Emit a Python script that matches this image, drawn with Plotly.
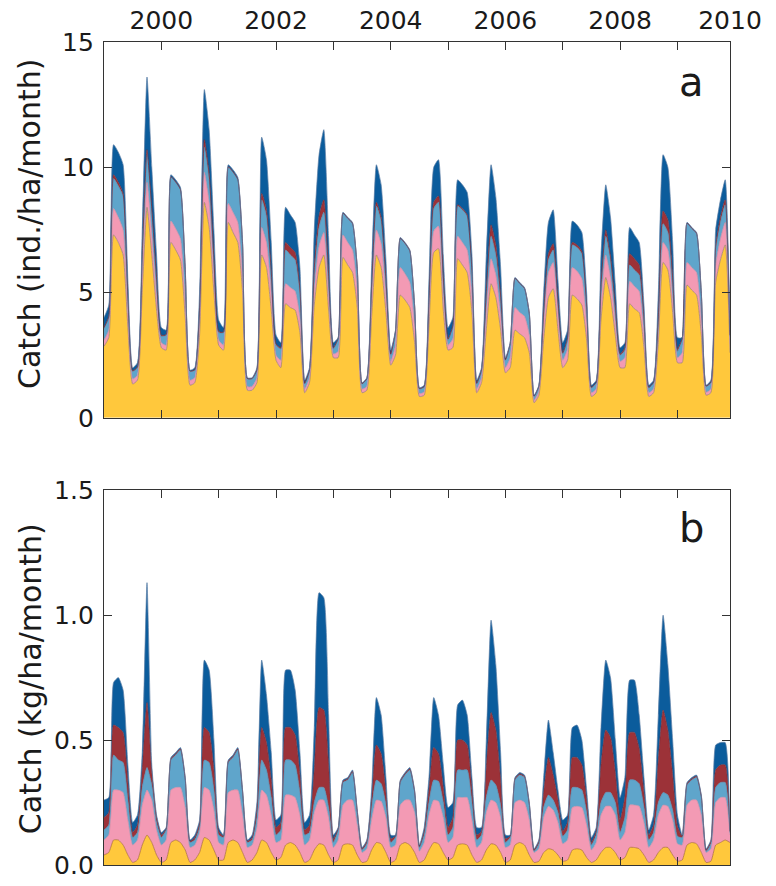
import plotly.graph_objects as go

# ---------------------------------------------------------------
# Monthly catch, January 1999 - December 2009 (132 months)
# Stack order (bottom -> top): yellow, pink, light blue, dark red, dark blue
# ---------------------------------------------------------------
start_year = 1999
n_months = 132
month_x = [start_year + m / 12 for m in range(n_months)]

year_ticks = [2000, 2001, 2002, 2003, 2004, 2005, 2006, 2007, 2008, 2009, 2009 + 11 / 12]
year_labels = ["2000", "", "2002", "", "2004", "", "2006", "", "2008", "", "2010"]

# Panel a: numbers (ind./ha/month)
a_yellow = [
    2.85, 3.2, 7.3, 7.0, 6.5, 3.6, 1.35, 1.5, 5.0, 8.4, 6.5, 4.3,
    2.8, 2.7, 7.0, 6.7, 6.3, 4.0, 1.3, 1.4, 3.3, 8.6, 7.6, 5.0,
    2.9, 2.7, 7.8, 7.4, 7.0, 5.0, 1.1, 1.1, 1.4, 6.5, 6.0, 4.3,
    2.3, 2.0, 4.55, 4.4, 4.3, 3.4, 1.0, 1.4, 4.5, 6.0, 6.5, 4.3,
    2.4, 2.4, 6.4, 6.1, 5.8, 4.4, 1.0, 1.1, 4.0, 6.5, 6.0, 4.2,
    2.1, 2.5, 4.9, 4.7, 4.4, 3.0, 0.85, 0.9, 3.6, 6.6, 6.75, 4.3,
    2.7, 2.8, 6.35, 6.1, 5.8, 4.2, 1.0, 1.4, 3.5, 5.35, 4.8, 3.5,
    1.8, 2.0, 3.5, 3.35, 3.2, 2.6, 0.6, 0.9, 3.1, 4.8, 5.15, 3.5,
    2.0, 2.3, 4.9, 4.75, 4.5, 3.1, 0.85, 1.0, 3.9, 5.6, 4.8, 3.3,
    2.0, 2.0, 4.55, 4.35, 4.2, 2.8, 0.85, 1.0, 3.0, 6.2, 5.9, 4.2,
    2.2, 2.2, 5.3, 5.1, 4.9, 3.3, 0.9, 1.0, 5.4, 6.3, 6.9, 2.6,
]
a_pink = [
    0.25, 0.3, 1.05, 1.0, 1.0, 0.55, 0.2, 0.2, 0.7, 1.0, 0.8, 0.55,
    0.2, 0.2, 0.85, 0.85, 0.85, 0.6, 0.2, 0.2, 0.5, 1.2, 1.0, 0.65,
    0.2, 0.2, 0.75, 0.8, 0.8, 0.6, 0.15, 0.15, 0.2, 1.1, 1.0, 0.7,
    0.2, 0.3, 0.8, 0.8, 0.75, 0.6, 0.15, 0.2, 0.6, 0.85, 0.9, 0.6,
    0.15, 0.25, 0.9, 0.9, 0.9, 0.7, 0.15, 0.15, 0.6, 1.0, 0.95, 0.65,
    0.15, 0.4, 1.1, 1.05, 1.0, 0.7, 0.12, 0.13, 0.5, 0.85, 0.9, 0.6,
    0.2, 0.35, 0.9, 0.9, 0.9, 0.65, 0.15, 0.2, 0.65, 1.0, 0.9, 0.6,
    0.2, 0.4, 0.9, 0.85, 0.85, 0.7, 0.1, 0.15, 0.65, 1.0, 1.05, 0.7,
    0.3, 0.45, 1.1, 1.1, 1.05, 0.7, 0.15, 0.15, 0.65, 0.9, 0.8, 0.55,
    0.25, 0.4, 0.9, 0.9, 0.85, 0.55, 0.15, 0.15, 0.4, 0.8, 0.8, 0.55,
    0.2, 0.4, 0.9, 0.9, 0.9, 0.6, 0.12, 0.15, 0.7, 0.85, 0.9, 0.35,
]
a_lightblue = [
    0.45, 0.5, 1.2, 1.25, 1.35, 0.7, 0.3, 0.3, 0.8, 1.1, 0.9, 0.65,
    0.25, 0.4, 1.75, 1.85, 1.95, 1.3, 0.35, 0.3, 0.5, 1.0, 0.9, 0.6,
    0.3, 0.5, 1.45, 1.6, 1.7, 1.3, 0.3, 0.3, 0.3, 1.1, 1.05, 0.7,
    0.4, 0.45, 1.35, 1.3, 1.25, 0.95, 0.2, 0.3, 0.6, 0.75, 0.8, 0.55,
    0.2, 0.5, 0.85, 0.95, 1.05, 0.85, 0.2, 0.3, 0.6, 0.95, 0.9, 0.6,
    0.25, 0.55, 1.15, 1.2, 1.25, 0.75, 0.18, 0.2, 0.55, 0.9, 0.95, 0.6,
    0.2, 0.5, 1.2, 1.3, 1.35, 1.0, 0.2, 0.3, 0.6, 0.9, 0.8, 0.55,
    0.3, 0.55, 1.15, 1.15, 1.1, 0.85, 0.15, 0.2, 0.35, 0.5, 0.5, 0.35,
    0.25, 0.4, 0.9, 0.95, 1.0, 0.65, 0.2, 0.25, 0.55, 0.75, 0.65, 0.45,
    0.25, 0.3, 0.65, 0.65, 0.65, 0.45, 0.2, 0.25, 0.4, 0.75, 0.7, 0.5,
    0.25, 0.55, 1.55, 1.55, 1.55, 1.05, 0.23, 0.25, 0.6, 0.65, 0.7, 0.3,
]
a_darkred = [
    0.05, 0.05, 0.15, 0.15, 0.1, 0.05, 0.03, 0.03, 0.1, 0.2, 0.15, 0.1,
    0.05, 0.02, 0.02, 0.02, 0.02, 0.02, 0.02, 0.02, 0.1, 0.3, 0.25, 0.15,
    0.05, 0.02, 0.02, 0.02, 0.02, 0.02, 0.02, 0.02, 0.02, 0.25, 0.25, 0.15,
    0.05, 0.05, 0.3, 0.3, 0.3, 0.2, 0.03, 0.02, 0.3, 0.45, 0.5, 0.3,
    0.05, 0.02, 0.02, 0.02, 0.02, 0.02, 0.02, 0.02, 0.1, 0.15, 0.15, 0.1,
    0.05, 0.02, 0.02, 0.02, 0.02, 0.02, 0.02, 0.02, 0.1, 0.25, 0.25, 0.15,
    0.05, 0.03, 0.05, 0.05, 0.05, 0.05, 0.03, 0.03, 0.3, 0.45, 0.4, 0.25,
    0.02, 0.02, 0.02, 0.02, 0.02, 0.02, 0.02, 0.02, 0.15, 0.25, 0.25, 0.15,
    0.05, 0.05, 0.1, 0.1, 0.1, 0.05, 0.02, 0.02, 0.2, 0.25, 0.2, 0.15,
    0.05, 0.1, 0.45, 0.45, 0.4, 0.25, 0.02, 0.02, 0.25, 0.5, 0.5, 0.35,
    0.1, 0.02, 0.02, 0.02, 0.02, 0.02, 0.02, 0.02, 0.15, 0.2, 0.2, 0.05,
]
a_darkblue = [
    0.4, 0.45, 1.2, 1.2, 1.15, 0.6, 0.12, 0.17, 0.9, 2.9, 1.65, 0.9,
    0.3, 0.18, 0.08, 0.08, 0.08, 0.08, 0.03, 0.08, 0.6, 2.0, 1.75, 1.1,
    0.45, 0.18, 0.08, 0.08, 0.08, 0.08, 0.03, 0.03, 0.08, 2.25, 2.0, 1.15,
    0.35, 0.2, 1.4, 1.3, 1.2, 0.85, 0.12, 0.08, 1.5, 2.45, 2.8, 1.45,
    0.2, 0.03, 0.03, 0.03, 0.03, 0.03, 0.03, 0.03, 0.7, 1.5, 1.3, 0.75,
    0.15, 0.03, 0.03, 0.03, 0.03, 0.03, 0.03, 0.05, 0.75, 1.4, 1.45, 0.85,
    0.45, 0.32, 1.0, 0.95, 0.9, 0.6, 0.12, 0.07, 1.45, 2.4, 1.9, 1.1,
    0.08, 0.03, 0.03, 0.03, 0.03, 0.03, 0.03, 0.03, 0.75, 1.25, 1.35, 0.8,
    0.4, 0.3, 0.85, 0.8, 0.75, 0.5, 0.08, 0.08, 1.2, 1.8, 1.55, 0.85,
    0.25, 0.2, 1.05, 0.95, 0.9, 0.45, 0.08, 0.08, 0.95, 2.25, 2.1, 1.4,
    0.45, 0.03, 0.03, 0.03, 0.03, 0.03, 0.03, 0.08, 0.65, 0.7, 0.8, 0.2,
]

# Panel b: biomass (kg/ha/month)
b_yellow = [
    0.04, 0.05, 0.10, 0.10, 0.08, 0.04, 0.01, 0.02, 0.08, 0.12, 0.09, 0.04,
    0.01, 0.02, 0.09, 0.10, 0.09, 0.06, 0.01, 0.02, 0.05, 0.11, 0.10, 0.06,
    0.02, 0.02, 0.09, 0.10, 0.09, 0.05, 0.01, 0.02, 0.05, 0.10, 0.09, 0.05,
    0.02, 0.03, 0.08, 0.09, 0.08, 0.05, 0.01, 0.02, 0.06, 0.085, 0.08, 0.04,
    0.01, 0.02, 0.08, 0.085, 0.08, 0.04, 0.01, 0.015, 0.06, 0.09, 0.085, 0.05,
    0.01, 0.02, 0.08, 0.09, 0.08, 0.05, 0.01, 0.02, 0.06, 0.09, 0.085, 0.05,
    0.02, 0.03, 0.08, 0.085, 0.08, 0.04, 0.01, 0.02, 0.06, 0.085, 0.08, 0.05,
    0.01, 0.02, 0.08, 0.09, 0.08, 0.04, 0.01, 0.015, 0.05, 0.065, 0.06, 0.04,
    0.015, 0.02, 0.06, 0.065, 0.06, 0.03, 0.01, 0.02, 0.05, 0.07, 0.07, 0.05,
    0.02, 0.03, 0.07, 0.07, 0.065, 0.04, 0.01, 0.02, 0.05, 0.07, 0.07, 0.04,
    0.015, 0.02, 0.08, 0.09, 0.085, 0.05, 0.01, 0.015, 0.08, 0.09, 0.10, 0.09,
]
b_pink = [
    0.06, 0.07, 0.20, 0.20, 0.21, 0.14, 0.07, 0.08, 0.16, 0.18, 0.17, 0.10,
    0.07, 0.08, 0.21, 0.21, 0.22, 0.17, 0.06, 0.06, 0.08, 0.20, 0.20, 0.16,
    0.07, 0.06, 0.20, 0.20, 0.21, 0.15, 0.06, 0.06, 0.10, 0.20, 0.19, 0.15,
    0.07, 0.07, 0.20, 0.19, 0.19, 0.15, 0.07, 0.08, 0.15, 0.175, 0.18, 0.15,
    0.06, 0.08, 0.16, 0.175, 0.18, 0.12, 0.04, 0.05, 0.12, 0.17, 0.17, 0.14,
    0.06, 0.06, 0.16, 0.17, 0.18, 0.16, 0.045, 0.07, 0.14, 0.17, 0.17, 0.14,
    0.07, 0.08, 0.19, 0.185, 0.19, 0.14, 0.06, 0.07, 0.15, 0.175, 0.17, 0.14,
    0.06, 0.06, 0.17, 0.17, 0.17, 0.14, 0.04, 0.05, 0.14, 0.17, 0.16, 0.13,
    0.07, 0.08, 0.17, 0.17, 0.17, 0.13, 0.05, 0.07, 0.15, 0.165, 0.165, 0.15,
    0.08, 0.10, 0.17, 0.17, 0.17, 0.13, 0.06, 0.08, 0.15, 0.17, 0.165, 0.14,
    0.07, 0.06, 0.16, 0.17, 0.175, 0.15, 0.04, 0.05, 0.17, 0.18, 0.17, 0.03,
]
b_lightblue = [
    0.04, 0.04, 0.14, 0.12, 0.12, 0.08, 0.03, 0.03, 0.07, 0.09, 0.06, 0.03,
    0.03, 0.04, 0.12, 0.13, 0.15, 0.11, 0.02, 0.02, 0.02, 0.11, 0.11, 0.08,
    0.03, 0.03, 0.12, 0.13, 0.16, 0.09, 0.02, 0.02, 0.04, 0.12, 0.10, 0.07,
    0.03, 0.04, 0.14, 0.14, 0.13, 0.09, 0.04, 0.03, 0.04, 0.05, 0.05, 0.04,
    0.02, 0.04, 0.09, 0.08, 0.11, 0.05, 0.01, 0.02, 0.05, 0.08, 0.07, 0.05,
    0.02, 0.03, 0.09, 0.10, 0.12, 0.08, 0.015, 0.03, 0.05, 0.08, 0.08, 0.06,
    0.03, 0.04, 0.11, 0.11, 0.11, 0.07, 0.03, 0.03, 0.06, 0.08, 0.07, 0.05,
    0.02, 0.03, 0.09, 0.10, 0.10, 0.06, 0.005, 0.02, 0.04, 0.045, 0.04, 0.04,
    0.03, 0.04, 0.08, 0.075, 0.07, 0.05, 0.02, 0.03, 0.05, 0.055, 0.055, 0.05,
    0.03, 0.06, 0.10, 0.10, 0.09, 0.06, 0.03, 0.03, 0.05, 0.05, 0.045, 0.04,
    0.03, 0.03, 0.08, 0.08, 0.09, 0.07, 0.005, 0.02, 0.06, 0.06, 0.06, 0.01,
]
b_darkred = [
    0.05, 0.05, 0.12, 0.13, 0.12, 0.07, 0.02, 0.03, 0.07, 0.26, 0.05, 0.02,
    0.01, 0.005, 0.005, 0.005, 0.005, 0.005, 0.005, 0.01, 0.015, 0.13, 0.12, 0.08,
    0.015, 0.005, 0.005, 0.005, 0.005, 0.005, 0.005, 0.01, 0.03, 0.13, 0.11, 0.07,
    0.03, 0.03, 0.13, 0.13, 0.12, 0.07, 0.02, 0.03, 0.13, 0.32, 0.31, 0.17,
    0.015, 0.005, 0.005, 0.005, 0.005, 0.005, 0.005, 0.01, 0.03, 0.14, 0.12, 0.05,
    0.015, 0.005, 0.005, 0.005, 0.005, 0.005, 0.005, 0.015, 0.05, 0.13, 0.11, 0.06,
    0.03, 0.04, 0.12, 0.12, 0.10, 0.05, 0.02, 0.015, 0.12, 0.27, 0.22, 0.10,
    0.015, 0.005, 0.005, 0.005, 0.005, 0.005, 0.005, 0.01, 0.06, 0.15, 0.10, 0.05,
    0.02, 0.03, 0.12, 0.12, 0.10, 0.05, 0.01, 0.015, 0.15, 0.25, 0.22, 0.12,
    0.05, 0.08, 0.19, 0.19, 0.14, 0.06, 0.02, 0.03, 0.17, 0.33, 0.26, 0.14,
    0.04, 0.005, 0.005, 0.005, 0.005, 0.005, 0.005, 0.01, 0.07, 0.07, 0.07, 0.005,
]
b_darkblue = [
    0.07, 0.06, 0.17, 0.20, 0.17, 0.07, 0.04, 0.04, 0.07, 0.48, 0.03, 0.01,
    0.01, 0.005, 0.005, 0.005, 0.005, 0.005, 0.005, 0.01, 0.015, 0.27, 0.25, 0.12,
    0.015, 0.005, 0.005, 0.005, 0.005, 0.005, 0.005, 0.01, 0.03, 0.27, 0.19, 0.11,
    0.03, 0.03, 0.23, 0.23, 0.18, 0.09, 0.03, 0.04, 0.17, 0.46, 0.45, 0.20,
    0.015, 0.005, 0.005, 0.005, 0.005, 0.005, 0.005, 0.005, 0.04, 0.19, 0.155, 0.06,
    0.015, 0.005, 0.005, 0.005, 0.005, 0.005, 0.005, 0.015, 0.05, 0.20, 0.155, 0.09,
    0.08, 0.06, 0.14, 0.16, 0.12, 0.05, 0.03, 0.015, 0.11, 0.37, 0.26, 0.11,
    0.015, 0.005, 0.005, 0.005, 0.005, 0.005, 0.005, 0.005, 0.06, 0.15, 0.09, 0.04,
    0.045, 0.03, 0.12, 0.13, 0.10, 0.04, 0.02, 0.015, 0.15, 0.28, 0.24, 0.13,
    0.09, 0.08, 0.21, 0.21, 0.135, 0.06, 0.02, 0.04, 0.18, 0.38, 0.26, 0.14,
    0.045, 0.005, 0.005, 0.005, 0.005, 0.005, 0.005, 0.005, 0.10, 0.09, 0.09, 0.005,
]

# ---------------------------------------------------------------
# Styling
# ---------------------------------------------------------------
FONT = "DejaVu Sans"
INK = "#1a1a1a"
AXIS = "#333333"

layers = [
    # (fill colour, edge colour)
    ("#FFC83C", "#9a7f66"),
    ("#F39AB4", "#c98aa3"),
    ("#5FA5CB", "#4f8db3"),
    ("#9C3238", "#7d2a33"),
    ("#0B5C9C", "#5f7fa6"),
]
panel_a = [a_yellow, a_pink, a_lightblue, a_darkred, a_darkblue]
panel_b = [b_yellow, b_pink, b_lightblue, b_darkred, b_darkblue]

fig = go.Figure()

for values, (fill, edge) in zip(panel_a, layers):
    fig.add_trace(go.Scatter(
        x=month_x, y=values, mode="lines", stackgroup="a",
        line=dict(width=0.7, color=edge, shape="spline", smoothing=0.5),
        fillcolor=fill, xaxis="x", yaxis="y",
        showlegend=False, hoverinfo="skip",
    ))

b_edges = ["#a8672c", "#c98aa3", "#4f8db3", "#7d2a33", "#5f7fa6"]
for values, (fill, _), edge in zip(panel_b, layers, b_edges):
    fig.add_trace(go.Scatter(
        x=month_x, y=values, mode="lines", stackgroup="b",
        line=dict(width=0.7, color=edge, shape="spline", smoothing=0.5),
        fillcolor=fill, xaxis="x2", yaxis="y2",
        showlegend=False, hoverinfo="skip",
    ))

x_range = [start_year, start_year + (n_months - 1) / 12]

common_x = dict(
    range=x_range, tickvals=year_ticks, ticks="inside", ticklen=8,
    tickwidth=1.3, tickcolor=AXIS, showline=True, linecolor=AXIS,
    linewidth=1.3, mirror="ticks", showgrid=False, zeroline=False,
    tickfont=dict(family=FONT, size=25, color=INK),
)
common_y = dict(
    ticks="inside", ticklen=8, tickwidth=1.3, tickcolor=AXIS,
    showline=True, linecolor=AXIS, linewidth=1.3, mirror="ticks",
    showgrid=False, zeroline=False, ticklabelstandoff=4,
    tickfont=dict(family=FONT, size=25, color=INK),
)

fig.update_layout(
    width=776, height=886,
    margin=dict(l=104, r=46, t=39, b=6),
    paper_bgcolor="white", plot_bgcolor="white",
    xaxis=dict(common_x, side="top", ticktext=year_labels, anchor="y",
               ticklabelstandoff=2),
    xaxis2=dict(common_x, showticklabels=False, anchor="y2", matches="x"),
    yaxis=dict(common_y, domain=[0.5434, 1.0], range=[0, 15],
               tickvals=[0, 5, 10, 15], ticktext=["0", "5", "10", "15"]),
    yaxis2=dict(common_y, domain=[0.0, 0.4554], range=[0, 1.5],
                tickvals=[0, 0.5, 1.0, 1.5],
                ticktext=["0.0", "0.5", "1.0", "1.5"]),
    annotations=[
        dict(text="Catch (ind./ha/month)", textangle=-90, showarrow=False,
             xref="paper", yref="paper", x=-0.118, y=0.779,
             xanchor="center", yanchor="middle",
             font=dict(family=FONT, size=30, color=INK)),
        dict(text="Catch (kg/ha/month)", textangle=-90, showarrow=False,
             xref="paper", yref="paper", x=-0.118, y=0.226,
             xanchor="center", yanchor="middle",
             font=dict(family=FONT, size=30, color=INK)),
        dict(text="a", showarrow=False, xref="paper", yref="paper",
             x=0.938, y=0.951, xanchor="center", yanchor="middle",
             font=dict(family=FONT, size=40, color=INK)),
        dict(text="b", showarrow=False, xref="paper", yref="paper",
             x=0.938, y=0.410, xanchor="center", yanchor="middle",
             font=dict(family=FONT, size=40, color=INK)),
    ],
)

fig.write_html("out.html")
